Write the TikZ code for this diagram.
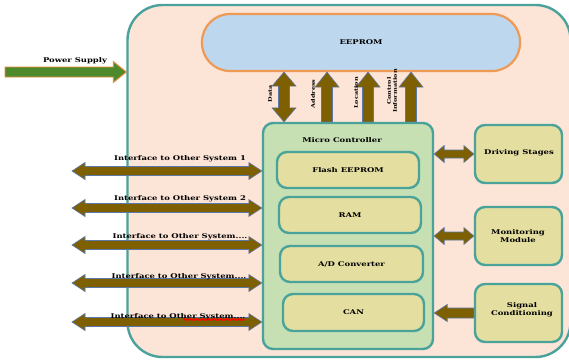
\documentclass[tikz,border=0pt]{standalone}
\usepackage{fontspec}
\setmainfont{DejaVu Serif}
\newfontfamily\wideserif[FakeStretch=1.3]{DejaVu Serif}
\usetikzlibrary{calc,decorations.pathmorphing}
\definecolor{peach}{HTML}{FCE4D6}
\definecolor{tealc}{HTML}{4AA39B}
\definecolor{eefill}{HTML}{BDD7EE}
\definecolor{eeline}{HTML}{EE9A55}
\definecolor{mcfill}{HTML}{C6E0B4}
\definecolor{khaki}{HTML}{E4DEA0}
\definecolor{brownc}{HTML}{7F6000}
\definecolor{arrline}{HTML}{5A78A8}
\definecolor{pgreen}{HTML}{4E8A2C}
\definecolor{porange}{HTML}{EE8A3A}
\tikzset{
  arrdim/.code args={#1/#2/#3}{\def\arrHL{#1}\def\arrHW{#2}\def\arrSW{#3}},
  hdbl/.style={to path={let \p1=(\tikztostart),\p2=(\tikztotarget) in
    (\x1,\y1) -- ({\x1+\arrHL},{\y1+\arrHW}) -- ({\x1+\arrHL},{\y1+\arrSW})
    -- ({\x2-\arrHL},{\y1+\arrSW}) -- ({\x2-\arrHL},{\y1+\arrHW}) -- (\x2,\y1)
    -- ({\x2-\arrHL},{\y1-\arrHW}) -- ({\x2-\arrHL},{\y1-\arrSW})
    -- ({\x1+\arrHL},{\y1-\arrSW}) -- ({\x1+\arrHL},{\y1-\arrHW}) -- cycle}},
  hsgl/.style={to path={let \p1=(\tikztostart),\p2=(\tikztotarget) in
    (\x1,{\y1+\arrSW}) -- ({\x2-(\arrHL)},{\y1+\arrSW}) -- ({\x2-(\arrHL)},{\y1+\arrHW})
    -- (\x2,\y1) -- ({\x2-(\arrHL)},{\y1-\arrHW}) -- ({\x2-(\arrHL)},{\y1-\arrSW})
    -- (\x1,{\y1-\arrSW}) -- cycle}},
  vdbl/.style={to path={let \p1=(\tikztostart),\p2=(\tikztotarget) in
    (\x1,\y1) -- ({\x1+\arrHW},{\y1+\arrHL}) -- ({\x1+\arrSW},{\y1+\arrHL})
    -- ({\x1+\arrSW},{\y2-\arrHL}) -- ({\x1+\arrHW},{\y2-\arrHL}) -- (\x1,\y2)
    -- ({\x1-\arrHW},{\y2-\arrHL}) -- ({\x1-\arrSW},{\y2-\arrHL})
    -- ({\x1-\arrSW},{\y1+\arrHL}) -- ({\x1-\arrHW},{\y1+\arrHL}) -- cycle}},
  vsgl/.style={to path={let \p1=(\tikztostart),\p2=(\tikztotarget) in
    ({\x1-\arrSW},\y1) -- ({\x1+\arrSW},\y1) -- ({\x1+\arrSW},{\y2-\arrHL})
    -- ({\x1+\arrHW},{\y2-\arrHL}) -- (\x1,\y2) -- ({\x1-\arrHW},{\y2-\arrHL})
    -- ({\x1-\arrSW},{\y2-\arrHL}) -- cycle}},
  barrow/.style={fill=brownc, draw=arrline, line width=0.6pt, line join=miter},
  box/.style={draw=tealc, line width=2.4pt, rounded corners=10pt, inner sep=0pt, align=center},
  innerbox/.style={box, fill=khaki},
  sidebox/.style={box, fill=khaki, minimum width=87pt, minimum height=58pt},
  lbl/.style={font=\wideserif\bfseries\fontsize{6.5}{7.8}\selectfont, inner sep=0pt, align=center},
  vlbl/.style={font=\wideserif\bfseries\fontsize{5}{5.8}\selectfont, inner sep=0pt, align=center, rotate=90},
}
\begin{document}
\begin{tikzpicture}[x=1pt,y=-1pt]
\useasboundingbox (0,0) rectangle (569,360);
\fill[white] (0,0) rectangle (569,360);
% outer box
\node[draw=tealc, fill=peach, line width=2.4pt, rounded corners=35pt,
      minimum width=443pt, minimum height=352pt, inner sep=0pt] (outer) at (349,181) {};
% EEPROM
\node[draw=eeline, fill=eefill, line width=2.2pt, rounded corners=28pt,
      minimum width=318pt, minimum height=57pt, inner sep=0pt, lbl] (ee) at (361,42.5) {EEPROM};
% micro controller
\node[box, fill=mcfill, minimum width=170pt, minimum height=226pt] (mc) at (348,236) {};
\node[lbl] (mctitle) at (342,140) {Micro Controller};
\node[innerbox, minimum width=142pt, minimum height=36pt, lbl] (flash) at (348,170) {Flash EEPROM};
\node[innerbox, minimum width=142pt, minimum height=36pt, lbl] (ram) at (350,215) {RAM};
\node[innerbox, minimum width=143pt, minimum height=36pt, lbl] (ad) at (351.5,264) {A/D Converter};
\node[innerbox, minimum width=141pt, minimum height=37pt, lbl] (can) at (353.5,312.5) {CAN};
% side boxes
\node[sidebox] (drv) at (518.5,154) {};
\node[lbl] (drvt) at (519,153) {Driving Stages};
\node[sidebox] (mon) at (518.5,236) {};
\node[lbl] (mont) at (518,236) {Monitoring\\Module};
\node[sidebox] (sig) at (518.5,313) {};
\node[lbl] (sigt) at (522,310) {Signal\\Conditioning};
% vertical bus arrows
\coordinate (xd) at (284,0);
\coordinate (xa) at (327,0);
\coordinate (xl) at (368,0);
\coordinate (xc) at (411,0);
\path[barrow, arrdim={14pt/12pt/5.5pt}, vdbl] (xd |- mc.north) to (xd |- ee.south);
\path[barrow, arrdim={15pt/12pt/5.5pt}, vsgl] (xa |- mc.north) to (xa |- ee.south);
\path[barrow, arrdim={15pt/12pt/5.5pt}, vsgl] (xl |- mc.north) to (xl |- ee.south);
\path[barrow, arrdim={15pt/12pt/5.5pt}, vsgl] (xc |- mc.north) to (xc |- ee.south);
\node[vlbl] (tdata) at (270,94) {Data};
\node[vlbl] (taddr) at (313,94) {Address};
\node[vlbl] (tloc) at (356,93) {Location};
\node[vlbl] (tctrl) at (392,91) {Control\\Information};
% left interface arrows
\coordinate (c1) at (72,171);
\coordinate (c2) at (72,208);
\coordinate (c3) at (72,245);
\coordinate (c4) at (72,283);
\coordinate (c5) at (72,322);
\foreach \c in {c1,c2,c3,c4,c5}
  \path[barrow, arrdim={13pt/8.5pt/4.5pt}, hdbl] (\c) to (mc.west |- \c);
\node[lbl] (l1) at (180,159) {Interface to Other System 1};
\node[lbl] (l2) at (180,199) {Interface to Other System 2};
\node[lbl] (l3) at (180,237) {Interface to Other System....};
\node[lbl] (l4) at (179,277) {Interface to Other System....};
\node[lbl] (l5) at (178,317) {Interface to Other System....};
\draw[red, line width=0.9pt, decorate, decoration={snake, amplitude=0.9pt, segment length=3pt}]
  ($(l5.east)+(-62,2.5)$) -- ($(l5.east)+(-1,2.5)$);
% right arrows
\path[barrow, arrdim={10pt/8.5pt/4pt}, hdbl] (mc.east |- drv.west) to (drv.west);
\path[barrow, arrdim={10pt/8.5pt/4pt}, hdbl] (mc.east |- mon.west) to (mon.west);
\path[barrow, arrdim={-13pt/8.5pt/5pt}, hsgl] (sig.west) to (mc.east |- sig.west);
% power supply
\coordinate (ps) at (5,72);
\path[fill=pgreen, draw=porange, line width=0.9pt, arrdim={13pt/10.5pt/5pt}, hsgl] (ps) to (outer.west |- ps);
\node[lbl] (pst) at (75,61) {Power Supply};
\end{tikzpicture}
\end{document}
